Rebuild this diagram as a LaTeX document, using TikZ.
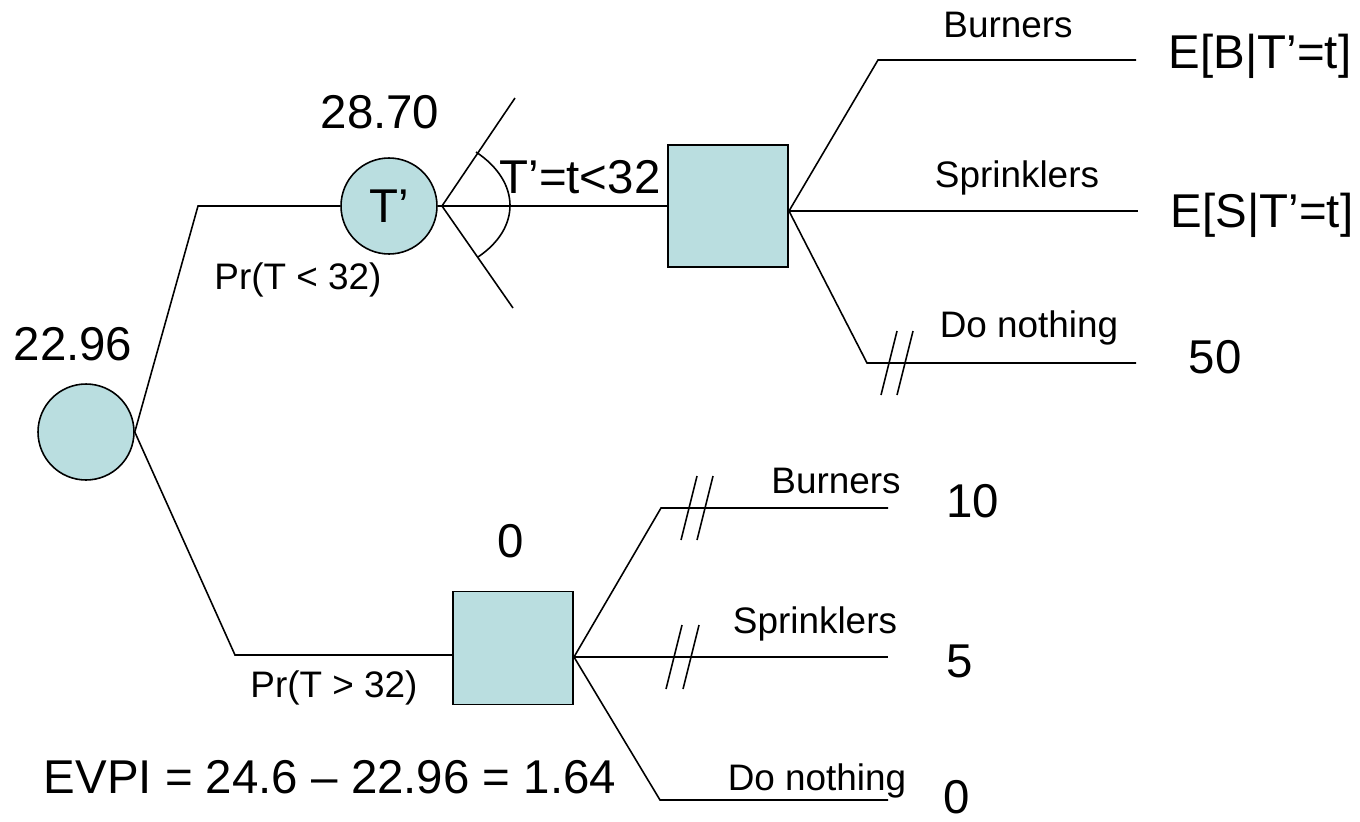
\documentclass[tikz,border=0pt]{standalone}
\usepackage{fontspec}
\setmainfont{Liberation Sans}
\usetikzlibrary{positioning}
\usetikzlibrary{calc}
\definecolor{nodeblue}{RGB}{186,222,224}
\tikzstyle{chance}=[circle,fill=nodeblue,draw,minimum size=1.92cm,inner sep=0pt,line width=0.9pt]
\tikzstyle{decision}=[rectangle,fill=nodeblue,draw,minimum width=2.4cm,inner sep=0pt,line width=0.9pt]
\tikzstyle{branch} = [draw,line width=0.9pt]
\tikzstyle{bigtext} = [font=\fontsize{27}{32}\selectfont,inner sep=0pt]
\tikzstyle{weight} = [font=\fontsize{21}{25}\selectfont,inner sep=0pt]

\begin{document}
\begin{tikzpicture}[x=0.02cm,y=-0.02cm]
    \useasboundingbox (0,0) rectangle (1360,822);

%Nodes
    \node[chance] (root) at (86,432) {};
    \node[chance,font=\fontsize{27}{32}\selectfont] (tp) at (389,206) {T’};
    \node[decision,minimum height=2.44cm] (dec1) at (728,206) {};
    \node[decision,minimum height=2.26cm] (dec2) at (513,648) {};

% Corners and ends
    \foreach \x/\y/\name in {198/206/up, 235/655/low, 442/206/fan, 515/98/fanhi, 513/308/fanlo}
        \coordinate (\name) at (\x,\y);
    %upper decision
    \foreach \x/\y/\name in {789/211/dao, 878/60/bac, 1136/60/bae, 1138/211/sae, 867/363/nac, 1136/363/nae}
        \coordinate (\name) at (\x,\y);
    %lower decision
    \foreach \x/\y/\name in {574/657/dbo, 661/508/bbc, 888/508/bbe, 888/657/sbe, 660/800/nbc, 888/800/nbe}
        \coordinate (\name) at (\x,\y);

% Edges
    %root
    \path[branch] (root.east) -- (up) -- (tp.west);
    \path[branch] (root.east) -- (low) -- (low -| dec2.west);
    %chance T'
    \path[branch] (tp.east) -- (fan);
    \foreach \dest in {fanhi, fanlo, dec1.west}
        \path[branch] (fan) -- (\dest);
    \draw[branch] (476,152) .. controls (521,182) and (521,228) .. (478,257);
    %decisions
    \foreach \source/\corner/\dest in {dao/bac/bae, dao/dao/sae, dao/nac/nae, dbo/bbc/bbe, dbo/dbo/sbe, dbo/nbc/nbe}
        \path[branch] (\source) -- (\corner) -- (\dest);
    \path[branch] (dec1.east |- dao) -- (dao);
    \path[branch] (dec2.east |- dbo) -- (dbo);

% Cut branches
    \foreach \c/\dx in {nac/22, nac/38, bbc/28, bbc/44, dbo/100, dbo/117}
        \path[branch] ($(\c)+(\dx+8,-32)$) -- ($(\c)+(\dx-8,32)$);

% Values
    \node[bigtext] (val0) at (73,344) {22.96};
    \node[bigtext] (val1) at (380,112) {28.70};
    \node[bigtext] (val2) at (511,541) {0};
    \node[bigtext] (obs) at (580,177) {T’=t<32};

% Probabilities
    \node[weight] (plo) at (298,280) {Pr(T < 32)};
    \node[weight] (phi) at (334,688) {Pr(T > 32)};

% Labels
    \foreach \x/\y/\name/\label in {1008/37/la1/Burners, 1017/187/la2/Sprinklers, 1029/337/la3/Do nothing,
        836/493/lb1/Burners, 815/633/lb2/Sprinklers, 817/790/lb3/Do nothing}
        \node[weight,anchor=base] (\name) at (\x,\y) {\label};

% Payoffs
    \foreach \x/\y/\name/\label in {1260/68/ya1/E[B|T’=t], 1262/227/ya2/E[S|T’=t], 1215/373/ya3/50,
        973/517/yb1/10, 960/677/yb2/5, 957/813/yb3/0}
        \node[bigtext,anchor=base] (\name) at (\x,\y) {\label};

    \node[bigtext,anchor=base] (evpi) at (330,793) {EVPI = 24.6 – 22.96 = 1.64};

\end{tikzpicture}
\end{document}
